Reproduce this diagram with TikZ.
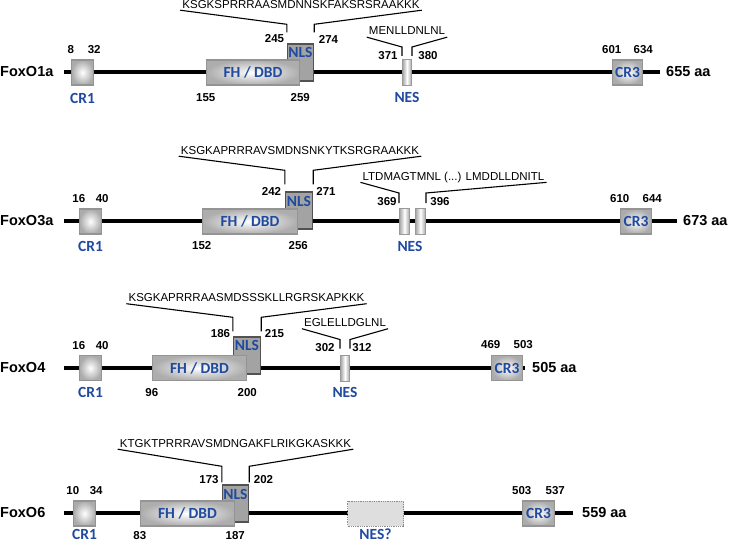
\documentclass[tikz,border=0pt]{standalone}
\usepackage{fontspec}
\setmainfont{Liberation Sans}
\newfontfamily\calibri{Carlito}
\usetikzlibrary{positioning}
\definecolor{domblue}{HTML}{1F4AA0}

\begin{document}
\begin{tikzpicture}[
            x=1pt, y=-1pt,
            backbone/.style={line width=3.3pt},
            dom/.style={font=\calibri\bfseries\fontsize{15.5}{16}\selectfont, text=domblue, inner sep=0pt},
            crbox/.style={dom, draw=black!42, line width=1.4pt, inner color=white, outer color=black!33, minimum height=25pt},
            fhbox/.style={dom, draw=black!42, line width=1.4pt, inner color=white, outer color=black!32, minimum height=25pt},
            nlsbox/.style={draw=black!68, line width=1.4pt, fill=black!36, minimum height=37pt, inner sep=0pt},
            nesbox/.style={draw=black!40, line width=1pt, left color=black!35, right color=black!35, middle color=white, minimum height=26pt, inner sep=0pt},
            nesq/.style={draw=black!45, densely dotted, line width=0.8pt, fill=black!13, minimum height=25pt, inner sep=0pt},
            num/.style={font=\bfseries\fontsize{11.5}{12}\selectfont, inner sep=0pt},
            seq/.style={font=\fontsize{11.5}{12}\selectfont, inner sep=2pt, text depth=0pt},
            prot/.style={font=\bfseries\fontsize{14.5}{15}\selectfont, inner sep=0pt},
            seqline/.style={line width=1.1pt}
        ]
            \useasboundingbox (0,0) rectangle (729,543);

            % FoxO1a
            \begin{scope}[yshift=-72pt]
                \node[prot, anchor=west] (o1) at (0,0) {FoxO1a};
                \node[prot, anchor=west] (o1len) at (666,0) {655 aa};
                \coordinate (o1s) at (64,0);
                \coordinate (o1e) at (660,0);
                \draw[backbone] (o1s) -- (o1e);
                \node[crbox, minimum width=22pt] (o1cr1) at (82.5,0.5) {};
                \node[nlsbox, minimum width=26pt] (o1nls) at (300.5,-9.5) {};
                \node[fhbox, minimum width=93pt] (o1fh) at (253,0.5) {FH / DBD};
                \node[nesbox, minimum width=9pt] (o1nes) at (407,0.5) {};
                \node[crbox, minimum width=30pt] (o1cr3) at (627.5,0.5) {CR3};
                \node[dom] (o1nlst) at (300.5,-19.5) {NLS};
                \node[dom, below=7pt of o1cr1] (o1cr1l) {CR1};
                \node[dom, below=6.5pt of o1nes] (o1nesl) {NES};
                \node[num, above=5pt of o1cr1.north west] (o1n8) {8};
                \node[num, above=5pt of o1cr1.north east] (o1n32) {32};
                \node[num, below=7.5pt of o1fh.south west] (o1n155) {155};
                \node[num, below=7.5pt of o1fh.south east] (o1n259) {259};
                \node[num, above=5pt of o1cr3.north west] (o1n601) {601};
                \node[num, above=5pt of o1cr3.north east] (o1n634) {634};
                \node[num] (o1n245) at (274.5,-33) {245};
                \node[num] (o1n274) at (328.5,-33) {274};
                \node[num] (o1n371) at (388,-16) {371};
                \node[num] (o1n380) at (428,-16) {380};
                \node[seq] (o1seq) at (301,-68) {KSGKSPRRRAASMDNNSKFAKSRSRAAKKK};
                \node[seq] (o1nseq) at (407,-41) {MENLLDNLNL};
                \draw[seqline] ([yshift=11pt]o1nls.north west) -- ++(0,-8) -- (o1seq.south west);
                \draw[seqline] ([yshift=11pt]o1nls.north east) -- ++(0,-8) -- (o1seq.south east);
                \draw[seqline] ([yshift=3pt]o1nes.north west) -- ++(0,-9) -- (o1nseq.south west);
                \draw[seqline] ([yshift=3pt]o1nes.north east) -- ++(0,-9) -- (o1nseq.south east);
            \end{scope}

            % FoxO3a
            \begin{scope}[yshift=-221pt]
                \node[prot, anchor=west] (o3) at (0,0) {FoxO3a};
                \node[prot, anchor=west] (o3len) at (683,0) {673 aa};
                \coordinate (o3s) at (64,0);
                \coordinate (o3e) at (677,0);
                \draw[backbone] (o3s) -- (o3e);
                \node[crbox, minimum width=22pt] (o3cr1) at (90.5,0.5) {};
                \node[nlsbox, minimum width=27pt] (o3nls) at (299,-10.5) {};
                \node[fhbox, minimum width=95pt] (o3fh) at (250,0.5) {FH / DBD};
                \node[nesbox, minimum width=10pt] (o3nes1) at (404.5,0.5) {};
                \node[nesbox, minimum width=10pt] (o3nes2) at (420.5,0.5) {};
                \node[crbox, minimum width=31pt] (o3cr3) at (636,0.5) {CR3};
                \node[dom] (o3nlst) at (299,-20) {NLS};
                \node[dom, below=6pt of o3cr1] (o3cr1l) {CR1};
                \node[dom, below=6pt of o3nes1.south east] (o3nesl) {NES};
                \node[num, above=5pt of o3cr1.north west] (o3n16) {16};
                \node[num, above=5pt of o3cr1.north east] (o3n40) {40};
                \node[num, below=7pt of o3fh.south west] (o3n152) {152};
                \node[num, below=7pt of o3fh.south east] (o3n256) {256};
                \node[num, above=5pt of o3cr3.north west] (o3n610) {610};
                \node[num, above=5pt of o3cr3.north east] (o3n644) {644};
                \node[num] (o3n242) at (271.5,-30) {242};
                \node[num] (o3n271) at (326,-30) {271};
                \node[num] (o3n369) at (387,-19.5) {369};
                \node[num] (o3n396) at (440,-19.5) {396};
                \node[seq] (o3seq) at (300,-71) {KSGKAPRRRAVSMDNSNKYTKSRGRAAKKK};
                \node[seq] (o3nseq) at (453.5,-45) {LTDMAGTMNL (...) LMDDLLDNITL};
                \draw[seqline] ([yshift=7pt]o3nls.north west) -- ++(0,-14) -- (o3seq.south west);
                \draw[seqline] ([yshift=7pt]o3nls.north east) -- ++(0,-14) -- (o3seq.south east);
                \draw[seqline] ([yshift=5pt]o3nes1.north west) -- ++(0,-10) -- (o3nseq.south west);
                \draw[seqline] ([yshift=5pt]o3nes2.north east) -- ++(0,-10) -- (o3nseq.south east);
            \end{scope}

            % FoxO4
            \begin{scope}[yshift=-368pt]
                \node[prot, anchor=west] (o4) at (0,0) {FoxO4};
                \node[prot, anchor=west] (o4len) at (532,0) {505 aa};
                \coordinate (o4s) at (64,0);
                \coordinate (o4e) at (525,0);
                \draw[backbone] (o4s) -- (o4e);
                \node[crbox, minimum width=22pt] (o4cr1) at (90.5,0) {};
                \node[nlsbox, minimum width=27pt] (o4nls) at (247,-12.5) {};
                \node[fhbox, minimum width=94pt] (o4fh) at (199.5,0) {FH / DBD};
                \node[nesbox, minimum width=9pt] (o4nes) at (345,0) {};
                \node[crbox, minimum width=31pt] (o4cr3) at (507,0) {CR3};
                \node[dom] (o4nlst) at (247,-22.5) {NLS};
                \node[dom, below=6pt of o4cr1] (o4cr1l) {CR1};
                \node[dom, below=6pt of o4nes] (o4nesl) {NES};
                \node[num, above=5pt of o4cr1.north west] (o4n16) {16};
                \node[num, above=5pt of o4cr1.north east] (o4n40) {40};
                \node[num, below=7pt of o4fh.south west] (o4n96) {96};
                \node[num, below=7pt of o4fh.south east] (o4n200) {200};
                \node[num, above=6pt of o4cr3.north west] (o4n469) {469};
                \node[num, above=6pt of o4cr3.north east] (o4n503) {503};
                \node[num] (o4n186) at (220.5,-34) {186};
                \node[num] (o4n215) at (274.5,-34) {215};
                \node[num] (o4n302) at (325,-20.5) {302};
                \node[num] (o4n312) at (362,-20.5) {312};
                \node[seq] (o4seq) at (246.5,-70.5) {KSGKAPRRRAASMDSSSKLLRGRSKAPKKK};
                \node[seq] (o4nseq) at (345,-45.5) {EGLELLDGLNL};
                \draw[seqline] ([yshift=5pt]o4nls.north west) -- ++(0,-14) -- (o4seq.south west);
                \draw[seqline] ([yshift=5pt]o4nls.north east) -- ++(0,-14) -- (o4seq.south east);
                \draw[seqline] ([yshift=6pt]o4nes.north west) -- ++(0,-9) -- (o4nseq.south west);
                \draw[seqline] ([yshift=6pt]o4nes.north east) -- ++(0,-9) -- (o4nseq.south east);
            \end{scope}

            % FoxO6
            \begin{scope}[yshift=-513pt]
                \node[prot, anchor=west] (o6) at (0,0) {FoxO6};
                \node[prot, anchor=west] (o6len) at (582,0) {559 aa};
                \coordinate (o6s) at (64,0);
                \coordinate (o6e) at (573,0);
                \draw[backbone] (o6s) -- (o6e);
                \node[crbox, minimum width=22pt] (o6cr1) at (84.5,0.5) {};
                \node[nlsbox, minimum width=26pt] (o6nls) at (235.5,-9.5) {};
                \node[fhbox, minimum width=94pt] (o6fh) at (187.5,0.5) {FH / DBD};
                \node[nesq, minimum width=56pt] (o6nes) at (375.5,0.5) {};
                \node[crbox, minimum width=32pt] (o6cr3) at (538.5,0.5) {CR3};
                \node[dom] (o6nlst) at (235.5,-18.5) {NLS};
                \node[dom, below=2.5pt of o6cr1] (o6cr1l) {CR1};
                \node[dom, below=2.5pt of o6nes] (o6nesl) {NES?};
                \node[num, above=5pt of o6cr1.north west] (o6n10) {10};
                \node[num, above=5pt of o6cr1.north east] (o6n34) {34};
                \node[num, below=5pt of o6fh.south west] (o6n83) {83};
                \node[num, below=5pt of o6fh.south east] (o6n187) {187};
                \node[num, above=5pt of o6cr3.north west] (o6n503) {503};
                \node[num, above=5pt of o6cr3.north east] (o6n537) {537};
                \node[num] (o6n173) at (209,-33) {173};
                \node[num] (o6n202) at (263.5,-33) {202};
                \node[seq] (o6seq) at (235.5,-70) {KTGKTPRRRAVSMDNGAKFLRIKGKASKKK};
                \draw[seqline] ([yshift=2pt]o6nls.north west) -- ++(0,-16) -- (o6seq.south west);
                \draw[seqline] ([yshift=2pt]o6nls.north east) -- ++(0,-16) -- (o6seq.south east);
            \end{scope}
        \end{tikzpicture}
\end{document}
